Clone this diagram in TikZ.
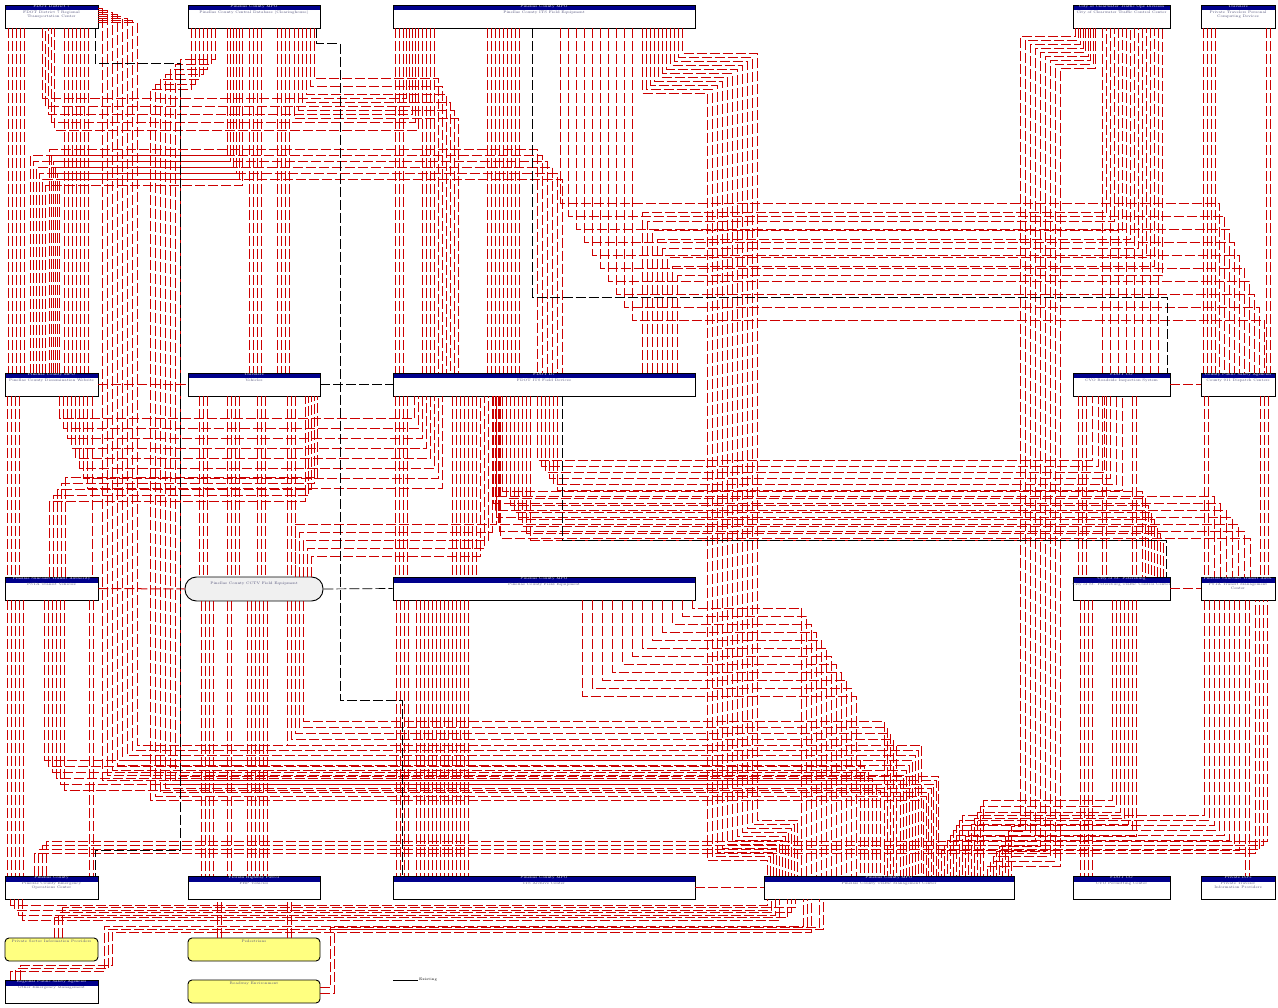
\documentclass[tikz,border=0pt]{standalone}
\usepackage{xcolor}
\usepackage{tikz}
\usetikzlibrary{arrows,shapes}

\definecolor{hdrblue}{RGB}{0,0,140}
\definecolor{flowred}{RGB}{204,0,0}
\definecolor{termyellow}{RGB}{255,255,128}
\definecolor{subgray}{RGB}{80,80,120}

\tikzset{
	every node/.style={font=\fontsize{3.6}{4.2}\selectfont},
	sysbox/.style={draw, line width=0.9pt, fill=white, inner sep=0pt, minimum height=23pt,
		path picture={\fill[hdrblue] (path picture bounding box.north west) rectangle ([yshift=-5.5pt]path picture bounding box.north east);}},
	hdrtxt/.style={anchor=north, text=white, inner sep=0.6pt},
	subtxt/.style={anchor=north, text=subgray, inner sep=0.6pt, yshift=-5.5pt, align=center},
	toptxt/.style={anchor=north, text=subgray, inner sep=0.6pt, yshift=-1.5pt, align=center},
	termbox/.style={draw, line width=0.9pt, fill=termyellow, rounded corners=4pt, inner sep=0pt, minimum height=23pt},
	fieldbox/.style={draw, line width=0.9pt, fill=black!6, rounded corners=11.5pt, inner sep=0pt, minimum height=24pt},
	iflow/.style={color=flowred, line width=1pt, dash pattern=on 10pt off 3pt},
	iflowk/.style={color=black, line width=0.7pt, dash pattern=on 10pt off 3pt}
}

\begin{document}
\begin{tikzpicture}[x=1pt,y=-1pt]
		\useasboundingbox (0,0) rectangle (1278,1008);
		%
		\node[sysbox, minimum width=93pt, label={[hdrtxt]north:FDOT District 7}, label={[subtxt]north:FDOT District 7 Regional\\Transportation Center}] (fdotdist) at (51.5,16.5) {};
		\node[sysbox, minimum width=132pt, label={[hdrtxt]north:Pinellas County MPO}, label={[subtxt]north:Pinellas County Central Database (Clearinghouse)}] (pcdb) at (254,16.5) {};
		\node[sysbox, minimum width=302pt, label={[hdrtxt]north:Pinellas County MPO}, label={[subtxt]north:Pinellas County ITS Field Equipment}] (pcits) at (544,16.5) {};
		\node[sysbox, minimum width=97pt, label={[hdrtxt]north:City of Clearwater Traffic Ops Division}, label={[subtxt]north:City of Clearwater Traffic Control Center}] (cwtcc) at (1121.5,16.5) {};
		\node[sysbox, minimum width=74pt, label={[hdrtxt]north:Travelers}, label={[subtxt]north:Private Travelers Personal\\Computing Devices}] (travpcd) at (1238,16.5) {};
		%
		\node[sysbox, minimum width=93pt, label={[hdrtxt]north:Pinellas County MPO}, label={[subtxt]north:Pinellas County Dissemination Website}] (pcweb) at (51.5,384.5) {};
		\node[sysbox, minimum width=132pt, label={[hdrtxt]north:Travelers}, label={[subtxt]north:Vehicles}] (vehicles) at (254,384.5) {};
		\node[sysbox, minimum width=302pt, label={[hdrtxt]north:FDOT D7}, label={[subtxt]north:FDOT ITS Field Devices}] (fdotfield) at (544,384.5) {};
		\node[sysbox, minimum width=97pt, label={[hdrtxt]north:FDOT CO}, label={[subtxt]north:CVO Roadside Inspection System}] (cvoroad) at (1121.5,384.5) {};
		\node[sysbox, minimum width=74pt, label={[hdrtxt]north:County Public Safety Agencies}, label={[subtxt]north:County 911 Dispatch Centers}] (pubsafety) at (1238,384.5) {};
		%
		\node[sysbox, minimum width=93pt, label={[hdrtxt]north:Pinellas Suncoast Transit Authority}, label={[subtxt]north:PSTA Transit Vehicles}] (psta) at (51.5,588.5) {};
		\node[fieldbox, minimum width=138pt, label={[toptxt, yshift=-3pt]north:Pinellas County CCTV Field Equipment}] (cctv) at (254,589) {};
		\node[sysbox, minimum width=302pt, label={[hdrtxt]north:Pinellas County MPO}, label={[subtxt]north:Pinellas County Field Equipment}] (pcfield) at (544,588.5) {};
		\node[sysbox, minimum width=97pt, label={[hdrtxt]north:City of St. Petersburg}, label={[subtxt]north:City of St. Petersburg Traffic Control Center}] (stpete) at (1121.5,588.5) {};
		\node[sysbox, minimum width=74pt, label={[hdrtxt]north:Pinellas Suncoast Transit Auth.}, label={[subtxt]north:PSTA Transit Management\\Center}] (pstatmc) at (1238,588.5) {};
		%
		\node[sysbox, minimum width=93pt, label={[hdrtxt]north:Pinellas County}, label={[subtxt]north:Pinellas County Emergency\\Operations Center}] (pceoc) at (51.5,887.5) {};
		\node[sysbox, minimum width=132pt, label={[hdrtxt]north:Florida Highway Patrol}, label={[subtxt]north:FHP Vehicles}] (fhp) at (254,887.5) {};
		\node[sysbox, minimum width=302pt, label={[hdrtxt]north:Pinellas County MPO}, label={[subtxt]north:ITS Archive Center}] (archive) at (544,887.5) {};
		\node[sysbox, minimum width=250pt, label={[hdrtxt]north:Pinellas County MPO}, label={[subtxt]north:Pinellas County Traffic Management Center}] (pctmc) at (889,887.5) {};
		\node[sysbox, minimum width=97pt, label={[hdrtxt]north:FDOT CO}, label={[subtxt]north:CVO Permitting Center}] (cvoperm) at (1121.5,887.5) {};
		\node[sysbox, minimum width=74pt, label={[hdrtxt]north:Private ISPs}, label={[subtxt]north:Private Traveler\\Information Providers}] (privisp) at (1238,887.5) {};
		%
		\node[termbox, minimum width=93pt, label={[toptxt]north:Private Sector Information Providers}] (privinfo) at (51.5,949.5) {};
		\node[termbox, minimum width=132pt, label={[toptxt]north:Pedestrians}] (peds) at (254,949.5) {};
		\node[termbox, minimum width=132pt, label={[toptxt]north:Roadway Environment}] (envir) at (254,991.5) {};
		\node[sysbox, minimum width=93pt, label={[hdrtxt]north:Regional Public Safety Agencies}, label={[subtxt]north:Other Emergency Management}] (regps) at (51.5,991.5) {};
		%
		\coordinate (lega) at (393,980);
		\node[anchor=west, inner sep=1pt] (legtxt) at (418,980) {Existing};
		\draw[line width=0.5pt] (lega) -- (legtxt.west);

		\begin{scope}[iflow]
		% top row down
		\foreach \d in {4,8,12,16,20,60,64,68,72,76,80,84}
			\draw ([xshift=\d pt]fdotdist.south west) -- ([xshift=\d pt]pcweb.north west);
		\foreach \d in {62,66,70,74,90,94,98,102}
			\draw ([xshift=\d pt]pcdb.south west) -- ([xshift=\d pt]vehicles.north west);
		\foreach \d in {3,7,11,30,34,38,42,95,99,103,107,111,115,119,123,127}
			\draw ([xshift=\d pt]pcits.south west) -- ([xshift=\d pt]fdotfield.north west);
		\foreach \d in {30,38,46,54,62,70,78,86}
			\draw ([xshift=\d pt]cwtcc.south west) -- ([xshift=\d pt]cvoroad.north west);
		\foreach \d in {3,7,11,15,66,70}
			\draw ([xshift=\d pt]travpcd.south west) -- ([xshift=\d pt]pubsafety.north west);
		% second row down
		\foreach \d in {3,7,11,15,88}
			\draw ([xshift=\d pt]pcweb.south west) -- ([xshift=\d pt]psta.north west);
		\foreach \d in {12,16,20,40,44,48,52,70,74,78,100,104,108}
			\draw ([xshift=\d pt]vehicles.south west) -- ([xshift=\d pt+3pt]cctv.north west);
		\foreach \d in {3,7,11,15,60,64,68,72,76,80,84}
			\draw ([xshift=\d pt]fdotfield.south west) -- ([xshift=\d pt]pcfield.north west);
		\foreach \d in {6,10,14,30,34,60,64}
			\draw ([xshift=\d pt]cvoroad.south west) -- ([xshift=\d pt]stpete.north west);
		\foreach \d in {4,8,60,64,68}
			\draw ([xshift=\d pt]pubsafety.south west) -- ([xshift=\d pt]pstatmc.north west);
		% third row down
		\foreach \d in {3,7,11,15,19,85,89}
			\draw ([xshift=\d pt]psta.south west) -- ([xshift=\d pt]pceoc.north west);
		\foreach \d in {14,18,22,26,40,44,60,64,68,72,76,80}
			\draw ([xshift=\d pt+3pt]cctv.south west) -- ([xshift=\d pt]fhp.north west);
		\foreach \d in {4,8,12,16,24,28,32,36,40,44,48,52,56,60,64,68,72,76}
			\draw ([xshift=\d pt]pcfield.south west) -- ([xshift=\d pt]archive.north west);
		\foreach \d in {8,12,16,20}
			\draw ([xshift=\d pt]stpete.south west) -- ([xshift=\d pt]cvoperm.north west);
		\foreach \d in {45,49}
			\draw ([xshift=\d pt]pstatmc.south west) -- ([xshift=\d pt]privisp.north west);
		% long routes into the TMC
		\foreach \i in {0,...,7}
			\draw ([yshift=8pt-\i*2pt]fdotdist.east) -| (102+\i*5, 780-\i*5) -| ([xshift=137pt+\i*3pt]pctmc.north west);
		\foreach \i in {0,...,6}
			\draw ([xshift=4pt+\i*4pt]pcdb.south west) |- (150+\i*5, 90-\i*5) -- (150+\i*5, 800-\i*4) -| ([xshift=160pt+\i*2.5pt]pctmc.north west);
		\foreach \i in {0,...,10}
			\draw ([xshift=250pt+\i*4pt]pcits.south west) -- ++(0,65-\i*4) -| (707+\i*5, 860-\i*4) -| ([xshift=4pt+\i*3pt]pctmc.north west);
		\foreach \i in {0,...,11}
			\draw ([xshift=300pt-\i*10pt]pcfield.south west) -- ++(0,8+\i*8) -| ([xshift=38pt+\i*5pt]pctmc.north west);
		\foreach \i in {0,...,5}
			\draw ([xshift=40pt+\i*4pt]psta.south west) -- ++(0,160+\i*6) -| ([xshift=97pt+\i*4pt]pctmc.north west);
		\foreach \i in {0,...,4}
			\draw ([xshift=-20pt-\i*4pt]cctv.south east) -- ++(0,120+\i*6) -| ([xshift=121pt+\i*3pt]pctmc.north west);
		\foreach \i in {0,...,8}
			\draw ([xshift=3pt+\i*2.5pt]cwtcc.south west) -- ++(0,8+\i*4) -| (1020+\i*5, 826+\i*5) -| ([xshift=-3pt-\i*3pt]pctmc.north east);
		\foreach \i in {0,...,6}
			\draw ([xshift=40pt+\i*4pt]stpete.south west) -- ++(0,200+\i*6) -| ([xshift=-31pt-\i*3pt]pctmc.north east);
		\foreach \i in {0,...,7}
			\draw ([xshift=4pt+\i*5pt]pstatmc.south west) -- ++(0,215+\i*5) -| ([xshift=-52pt-\i*3pt]pctmc.north east);
		% upper cross bundles
		\foreach \i in {0,...,5}
			\draw ([xshift=45pt+\i*2pt]pcweb.north west) -- ++(0,{\i*6-223}) -| ([xshift=145pt+\i*5pt]fdotfield.north west);
		\foreach \i in {0,...,5}
			\draw ([xshift=40pt+\i*3pt]pcdb.south west) -- ++(0,127+\i*6) -| ([xshift=26pt+\i*3pt]pcweb.north west);
		\foreach \i in {0,...,4}
			\draw ([xshift=14pt+\i*3pt]pcits.south west) -- ++(0,70+\i*8) -| ([xshift=38pt+\i*3pt]fdotdist.south west);
		\foreach \i in {0,...,5}
			\draw ([xshift=-6pt-\i*4pt]pcdb.south east) -- ++(0,50+\i*8) -| ([xshift=46pt+\i*4pt]fdotfield.north west);
		\foreach \i in {0,...,9}
			\draw ([xshift=168pt+\i*8pt]pcits.south west) -- ++(0,175+\i*13) -| ([xshift=19pt+\i*5pt]pubsafety.north west);
		\foreach \i in {0,...,7}
			\draw ([xshift=250pt+\i*5pt]fdotfield.north west) -- ++(0,{\i*9-160}) -| ([xshift=34pt+\i*8pt]cwtcc.south west);
		% middle cross bundles
		\foreach \i in {0,...,7}
			\draw ([xshift=55pt+\i*4pt]pcweb.south west) -- ++(0,22+\i*10) -| ([xshift=22pt+\i*4pt]fdotfield.south west);
		\foreach \i in {0,...,4}
			\draw ([xshift=45pt+\i*4pt]psta.north west) -- ++(0,{-75-\i*6}) -| ([xshift=118pt+\i*3pt]vehicles.south west);
		\foreach \i in {0,...,4}
			\draw ([xshift=-12pt-\i*4pt]cctv.north east) -- ++(0,{-20-\i*8}) -| ([xshift=88pt+\i*4pt]fdotfield.south west);
		\foreach \i in {0,...,7}
			\draw ([xshift=110pt+\i*4pt]fdotfield.south west) -- ++(0,95+\i*7) -| ([xshift=70pt+\i*3pt]stpete.north west);
		\foreach \i in {0,...,6}
			\draw ([xshift=100pt+\i*1.4pt]fdotfield.south west) -- ++(0,100+\i*7) -| ([xshift=14pt+\i*6pt]pstatmc.north west);
		\foreach \i in {0,...,5}
			\draw ([xshift=145pt+\i*4pt]fdotfield.south west) -- ++(0,64+\i*6) -| ([xshift=20pt+\i*6pt]cvoroad.south west);
		% lower bundles
		\foreach \i in {0,...,3}
			\draw ([xshift=30pt+\i*4pt]pceoc.north west) -- ++(0,{-22-\i*4}) -| ([xshift=55pt+\i*4pt]pstatmc.south west);
		\foreach \i in {0,...,3}
			\draw ([xshift=6pt+\i*4pt]pceoc.south west) -- ++(0,6+\i*5) -| ([xshift=4pt+\i*4pt]pctmc.south west);
		\foreach \i in {0,1,2}
			\draw ([xshift=50pt+\i*4pt]privinfo.north west) -- ++(0,{-20-\i*5}) -| ([xshift=24pt+\i*4pt]pctmc.south west);
		\foreach \i in {0,1,2}
			\draw ([xshift=6pt+\i*5pt]regps.north west) -- ++(0,{-8-\i*3}) -| (104+\i*4, 926+\i*3) -| ([xshift=40pt+\i*4pt]pctmc.south west);
		\foreach \i in {0,1}
			\draw ([yshift=4pt-\i*6pt]envir.east) -- ++(10+\i*4,0) -- ++(0,{-60-\i*4}) -| ([xshift=56pt+\i*4pt]pctmc.south west);
		\foreach \d in {30,34,100,104}
			\draw ([xshift=\d pt]peds.north west) -- ([xshift=\d pt]fhp.south west);
		% same row
		\draw (pcweb.east) -- (vehicles.west);
		\draw (psta.east) -- (cctv.west);
		\draw (cvoroad.east) -- (pubsafety.west);
		\draw (stpete.east) -- (pstatmc.west);
		\draw (archive.east) -- (pctmc.west);
		\end{scope}
		%
		\begin{scope}[iflowk]
		\draw (vehicles.east) -- (fdotfield.west);
		\draw (cctv.east) -- (pcfield.west);
		\draw ([xshift=-3pt]fdotdist.south east) -- ++(0,35) -| (180,850) -| ([xshift=-3pt]pceoc.north east);
		\draw ([xshift=-4pt]pcdb.south east) -- ++(0,15) -| (340,700) -| ([xshift=10pt]archive.north west);
		\draw ([xshift=140pt]pcits.south west) -- ++(0,269) -| ([xshift=95pt]cvoroad.north west);
		\draw ([xshift=170pt]fdotfield.south west) -- ++(0,144) -| ([xshift=94pt]stpete.north west);
		\end{scope}
	\end{tikzpicture}
\end{document}
